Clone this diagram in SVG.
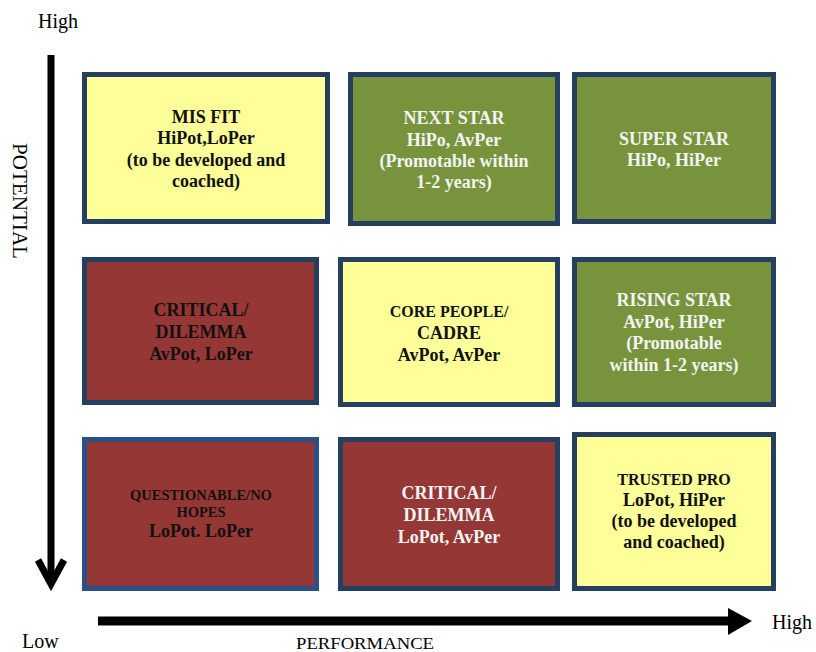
<svg xmlns="http://www.w3.org/2000/svg" width="816" height="652" viewBox="0 0 816 652">
<defs>
<style>
.box{stroke:#243F60;stroke-width:5}
.yel{fill:#FFFF99}
.grn{fill:#77933C}
.red{fill:#953735}
.t{font-family:"Liberation Serif","Times New Roman",serif;font-weight:bold;font-size:18px;text-anchor:middle}
.dk{fill:#111}
.wh{fill:#F4F4F4}
.s16{font-size:16px}
.s15{font-size:14.5px}
.ax{font-family:"Liberation Serif","Times New Roman",serif;font-size:20px;fill:#000}
</style>
</defs>
<rect width="816" height="652" fill="#fff"/>

<g id="connectors">
<line x1="51" y1="55" x2="51" y2="584" stroke="#000" stroke-width="7"/>
<polyline points="38,560 51,584 64,560" fill="none" stroke="#000" stroke-width="7" stroke-linejoin="miter"/>
<line x1="98" y1="621" x2="732" y2="621" stroke="#000" stroke-width="9"/>
<polygon points="728,608 752,621 728,635" fill="#000"/>
</g>

<g id="axis-labels">
<text class="ax" x="38" y="28">High</text>
<text class="ax" x="22" y="648">Low</text>
<text class="ax" x="772" y="629">High</text>
<text class="ax" x="365" y="649" text-anchor="middle" style="font-size:17px" textLength="138" lengthAdjust="spacingAndGlyphs">PERFORMANCE</text>
<text class="ax" transform="translate(13,143) rotate(90)" style="font-size:21px" textLength="116" lengthAdjust="spacingAndGlyphs">POTENTIAL</text>
</g>

<g id="misfit">
<rect class="box yel" x="84.5" y="74.5" width="243" height="147"/>
<text class="t dk"><tspan x="206" y="123">MIS FIT</tspan><tspan x="206" y="144">HiPot,LoPer</tspan><tspan x="206" y="166">(to be developed and</tspan><tspan x="206" y="187">coached)</tspan></text>
</g>

<g id="nextstar">
<rect class="box grn" x="350.5" y="74.5" width="207" height="149"/>
<text class="t wh"><tspan x="454" y="124">NEXT STAR</tspan><tspan x="454" y="146">HiPo, AvPer</tspan><tspan x="454" y="167">(Promotable within</tspan><tspan x="454" y="188">1-2 years)</tspan></text>
</g>

<g id="superstar">
<rect class="box grn" x="574.5" y="74.5" width="199" height="147"/>
<text class="t wh"><tspan x="674" y="145">SUPER STAR</tspan><tspan x="674" y="166">HiPo, HiPer</tspan></text>
</g>

<g id="critical1">
<rect class="box red" x="84.5" y="259.5" width="232" height="143"/>
<text class="t dk"><tspan x="201" y="316">CRITICAL/</tspan><tspan x="201" y="338">DILEMMA</tspan><tspan x="201" y="360">AvPot, LoPer</tspan></text>
</g>

<g id="core">
<rect class="box yel" x="340.5" y="259.5" width="217" height="145"/>
<text class="t dk"><tspan x="449" y="317" class="s16">CORE PEOPLE/</tspan><tspan x="449" y="339">CADRE</tspan><tspan x="449" y="361">AvPot, AvPer</tspan></text>
</g>

<g id="risingstar">
<rect class="box grn" x="574.5" y="259.5" width="199" height="145"/>
<text class="t wh"><tspan x="674" y="306">RISING STAR</tspan><tspan x="674" y="328">AvPot, HiPer</tspan><tspan x="674" y="349">(Promotable</tspan><tspan x="674" y="371">within 1-2 years)</tspan></text>
</g>

<g id="questionable">
<rect class="box red" x="84.5" y="439.5" width="232" height="149" style="stroke:#2B5085"/>
<text class="t dk"><tspan x="201" y="500" class="s15">QUESTIONABLE/NO</tspan><tspan x="201" y="517" class="s15">HOPES</tspan><tspan x="201" y="537">LoPot. LoPer</tspan></text>
</g>

<g id="critical2">
<rect class="box red" x="340.5" y="439.5" width="217" height="149"/>
<text class="t wh"><tspan x="449" y="499">CRITICAL/</tspan><tspan x="449" y="521">DILEMMA</tspan><tspan x="449" y="543">LoPot, AvPer</tspan></text>
</g>

<g id="trustedpro">
<rect class="box yel" x="574.5" y="434.5" width="199" height="154"/>
<text class="t dk"><tspan x="674" y="485" class="s16">TRUSTED PRO</tspan><tspan x="674" y="506">LoPot, HiPer</tspan><tspan x="674" y="527">(to be developed</tspan><tspan x="674" y="548">and coached)</tspan></text>
</g>
</svg>
